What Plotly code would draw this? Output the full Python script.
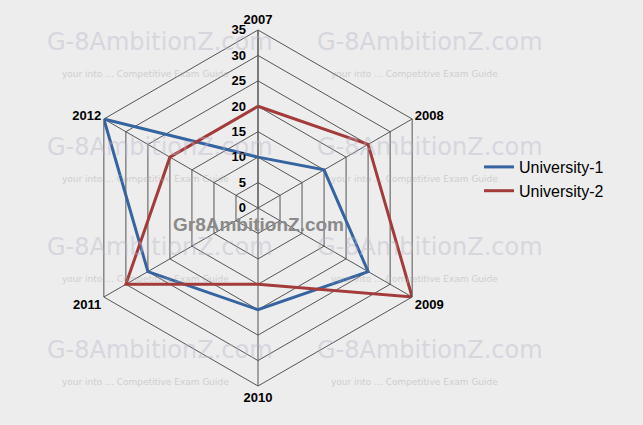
import plotly.graph_objects as go

years = ["2007", "2008", "2009", "2010", "2011", "2012"]
university_1 = [10, 15, 25, 20, 25, 35]
university_2 = [20, 25, 35, 15, 30, 20]
radial_ticks = [0, 5, 10, 15, 20, 25, 30, 35]

W, H = 643, 425
cx, cy, rad = 258, 208, 178

fig = go.Figure()

# close the polygons
for name, vals, col in [("University-1", university_1, "#3564A0"),
                        ("University-2", university_2, "#A33B3B")]:
    fig.add_trace(go.Scatterpolar(
        r=vals + vals[:1],
        theta=years + years[:1],
        mode="lines",
        line=dict(color=col, width=3),
        name=name,
    ))

fig.update_layout(
    width=W, height=H,
    margin=dict(l=0, r=0, t=0, b=0),
    paper_bgcolor="#EDEDED",
    plot_bgcolor="#EDEDED",
    font=dict(family="Liberation Sans, Arial", color="black"),
    polar=dict(
        domain=dict(x=[(cx - rad) / W, (cx + rad) / W],
                    y=[(H - cy - rad) / H, (H - cy + rad) / H]),
        bgcolor="rgba(0,0,0,0)",
        gridshape="linear",
        angularaxis=dict(
            rotation=90, direction="clockwise",
            linecolor="#555555", linewidth=1,
            gridcolor="#555555", gridwidth=1,
            showline=True, ticks="",
            tickfont=dict(size=13, family="Liberation Sans", color="black", weight="bold"),
        ),
        radialaxis=dict(
            range=[0, 35], tickvals=radial_ticks,
            angle=90, tickangle=90, side="counterclockwise",
            showline=True, linecolor="#555555", linewidth=1,
            gridcolor="#555555", gridwidth=1,
            ticks="outside", ticklen=7, tickcolor="rgba(0,0,0,0)",
            tickfont=dict(size=13, family="Liberation Sans", color="black", weight="bold"),
        ),
    ),
    legend=dict(
        x=479 / W, y=1 - 150 / H, xanchor="left", yanchor="top",
        bgcolor="rgba(0,0,0,0)",
        font=dict(size=16, family="Liberation Sans", color="black"),
        itemwidth=30,
    ),
)

# faint watermark text
marks = []
for wx in [160, 430]:
    for wy in [42, 147, 247, 350]:
        marks.append(dict(x=wx / W, y=1 - wy / H, text="G-8AmbitionZ.com",
                          font=dict(size=24, color="#B8B4CC", family="DejaVu Sans"),
                          opacity=0.4))
        marks.append(dict(x=(wx - 15) / W, y=1 - (wy + 32) / H,
                          text="your into ... Competitive Exam Guide",
                          font=dict(size=9, color="#AAAAAA", family="DejaVu Sans"),
                          opacity=0.45))
for m in marks:
    fig.add_annotation(xref="paper", yref="paper", showarrow=False,
                       xanchor="center", yanchor="middle", **m)

fig.add_annotation(xref="paper", yref="paper", x=258 / W, y=1 - 224 / H,
                   text="<b>Gr8AmbitionZ.com</b>", showarrow=False,
                   xanchor="center", yanchor="middle",
                   font=dict(size=19, color="#8A8A8A", family="Liberation Sans"))

fig.write_html("out.html", config={"displayModeBar": False},
               post_script="document.body.style.margin='0';")
